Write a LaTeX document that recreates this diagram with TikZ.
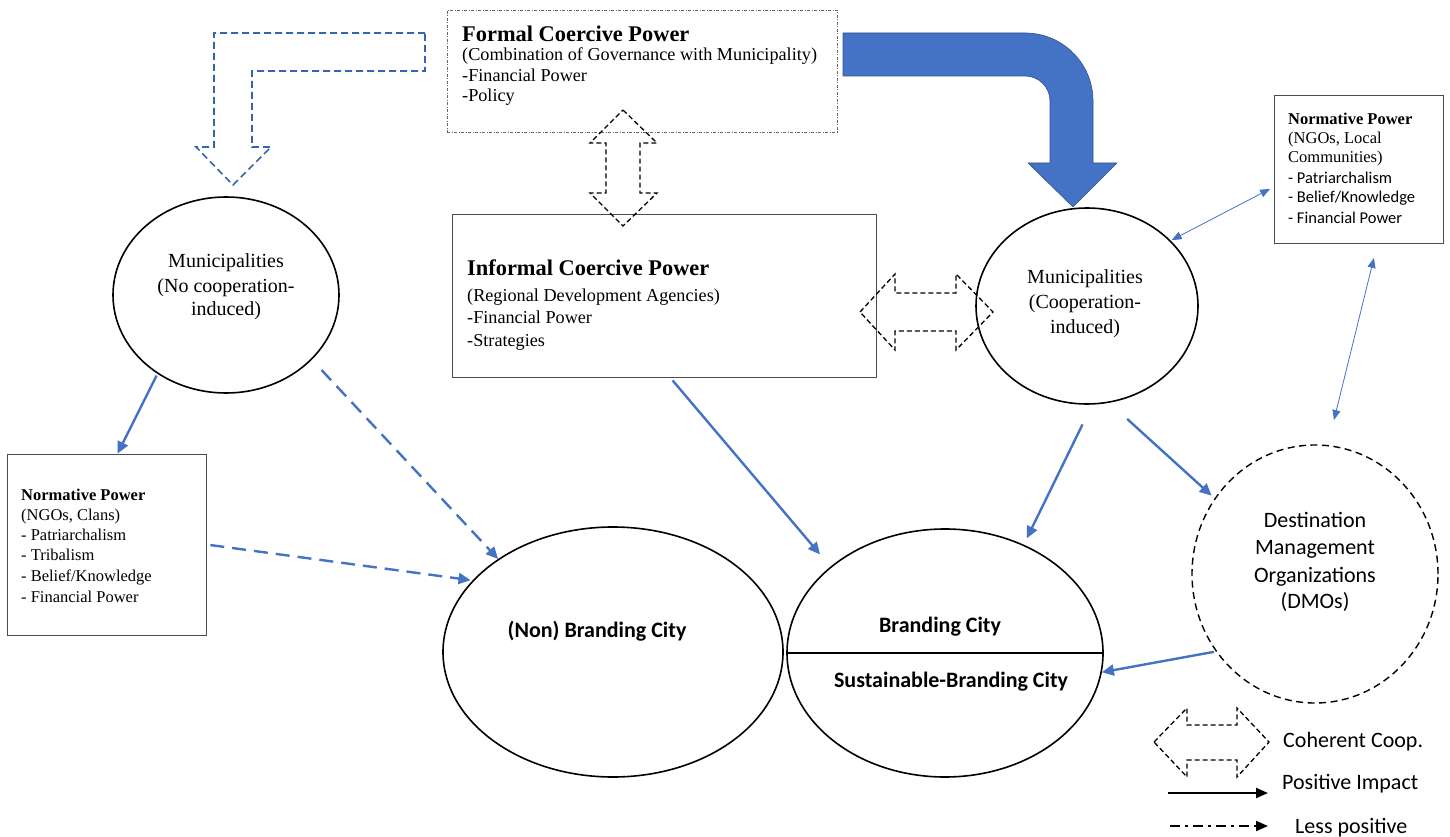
\documentclass[tikz,border=0pt]{standalone}
\usepackage{fontspec}
\setmainfont{Liberation Serif}
\newfontfamily\calib{Carlito}
\usetikzlibrary{shapes.geometric,arrows.meta,calc}
\definecolor{bl}{HTML}{4472C4}
\definecolor{bld}{HTML}{2F528F}
\definecolor{bdash}{HTML}{3565AE}
\begin{document}
\begin{tikzpicture}[x=1pt,y=-1pt,
  tl/.style={inner sep=0pt, anchor=base west},
  tc/.style={inner sep=0pt, anchor=base},
  tim/.style={font=\fontsize{18.2}{20}\selectfont},
  timb/.style={font=\fontsize{22.4}{24}\selectfont\bfseries},
  circ/.style={font=\fontsize{20}{22}\selectfont},
  small/.style={font=\fontsize{16.5}{18}\selectfont},
  smallb/.style={font=\fontsize{16.5}{18}\selectfont\bfseries},
  smallc/.style={font=\calib\fontsize{16.5}{18}\selectfont},
  calb/.style={font=\calib\fontsize{22}{24}\selectfont\bfseries},
  calr/.style={font=\calib\fontsize{22}{24}\selectfont},
  boxa/.style={draw=black!70, line width=0.7pt, rectangle, inner sep=0pt},
  ell/.style={draw=black, line width=1.6pt, ellipse, inner sep=0pt},
  posa/.style={draw=bl, line width=2.4pt, -{Triangle[length=12pt,width=11pt]}},
  lessa/.style={posa, dash pattern=on 14pt off 8pt},
  thina/.style={draw=bl, line width=0.8pt, {Triangle[length=10pt,width=8pt]}-{Triangle[length=10pt,width=8pt]}},
  coop/.style={draw=black, line width=1.3pt, dash pattern=on 5pt off 3pt, line join=miter},
]
\useasboundingbox (0,0) rectangle (1450,837);

% ---------- boxes ----------
\node[draw=black!60, line width=0.7pt, dash pattern=on 3pt off 1.5pt on 1pt off 1.5pt,
      rectangle, inner sep=0pt, minimum width=390pt, minimum height=122pt] (formal) at (642,71) {};
\node[boxa, minimum width=424pt, minimum height=163pt] (informal) at (664,295.5) {};
\node[boxa, minimum width=199pt, minimum height=181pt] (nl) at (106.5,544.5) {};
\node[boxa, minimum width=169pt, minimum height=148pt] (nr) at (1358.5,169) {};

% ---------- ellipses ----------
\node[ell, minimum width=226pt, minimum height=196pt] (lm) at (226,295) {};
\node[ell, minimum width=222pt, minimum height=196pt] (rc) at (1087,306) {};
\node[ell, minimum width=340pt, minimum height=250pt] (nb) at (613,652) {};
\node[ell, minimum width=316pt, minimum height=248pt] (bc) at (945,653) {};
\node[ell, line width=1.4pt, dash pattern=on 7pt off 4.5pt, minimum width=246pt, minimum height=258pt] (dm) at (1315,574) {};
\draw[line width=1.6pt] (bc.west) -- (bc.east);

% ---------- texts ----------
\node[tl,timb] (ft) at (462,42) {Formal Coercive Power};
\node[tl,tim] (f1) at (462,61) {(Combination of Governance with Municipality)};
\node[tl,tim] (f2) at (462,82) {-Financial Power};
\node[tl,tim] (f3) at (462,102) {-Policy};

\node[tl,timb] (it) at (467,275) {Informal Coercive Power};
\node[tl,tim] (i1) at (467,301) {(Regional Development Agencies)};
\node[tl,tim] (i2) at (467,323) {-Financial Power};
\node[tl,tim] (i3) at (467,346) {-Strategies};

\node[tc,circ] (lm1) at (226,267) {Municipalities};
\node[tc,circ] (lm2) at (226,292) {(No cooperation-};
\node[tc,circ] (lm3) at (226,315) {induced)};

\node[tc,circ] (rc1) at (1085,283) {Municipalities};
\node[tc,circ] (rc2) at (1085,308) {(Cooperation-};
\node[tc,circ] (rc3) at (1085,333) {induced)};

\node[tl,smallb] (nr0) at (1288,125) {Normative Power};
\node[tl,small] (nr1) at (1288,144) {(NGOs, Local};
\node[tl,small] (nr2) at (1288,163) {Communities)};
\node[tl,smallc] (nr3) at (1288,184) {- Patriarchalism};
\node[tl,smallc] (nr4) at (1288,203) {- Belief/Knowledge};
\node[tl,smallc] (nr5) at (1288,223) {- Financial Power};

\node[tl,smallb] (nl0) at (21,500) {Normative Power};
\node[tl,small] (nl1) at (21,520) {(NGOs, Clans)};
\node[tl,small] (nl2) at (21,540) {- Patriarchalism};
\node[tl,small] (nl3) at (21,560) {- Tribalism};
\node[tl,small] (nl4) at (21,581) {- Belief/Knowledge};
\node[tl,small] (nl5) at (21,602) {- Financial Power};

\node[tc,calb] (nbt) at (597,637) {(Non) Branding City};
\node[tc,calb] (bct) at (940,632) {Branding City};
\node[tc,calb] (bcs) at (951,687) {Sustainable-Branding City};

\node[tc,calr] (dm1) at (1315,527) {Destination};
\node[tc,calr] (dm2) at (1315,554) {Management};
\node[tc,calr] (dm3) at (1315,582) {Organizations};
\node[tc,calr] (dm4) at (1315,608) {(DMOs)};

\node[tl,calr] (lg1) at (1283,747) {Coherent Coop.};
\node[tl,calr] (lg2) at (1282,789) {Positive Impact};
\node[tl,calr] (lg3) at (1295,833) {Less positive};

% ---------- big blue bent arrow ----------
\draw[fill=bl, draw=bld, line width=0.6pt, line join=round]
  (843,33) -- (1025,33) .. controls (1062.6,33) and (1093,63.4) .. (1093,101)
  -- (1093,163) -- (1117,163) -- (1073,207) -- (1028,163) -- (1050,163) -- (1050,101)
  .. controls (1050,87.2) and (1038.8,76) .. (1025,76) -- (843,76) -- cycle;

% ---------- blue dashed hollow bent arrow ----------
\draw[draw=bdash, line width=1.6pt, dash pattern=on 7pt off 4pt, line join=miter]
  (425,33) -- (214,33) -- (214,147) -- (196,147) -- (233,185) -- (271,147)
  -- (252,147) -- (252,71) -- (425,71) -- cycle;

% ---------- coherent cooperation arrows ----------
\draw[coop] (623,110) -- (657,143) -- (640,143) -- (640,193) -- (657,193) -- (623,226)
  -- (590,193) -- (606,193) -- (606,143) -- (590,143) -- cycle;
\draw[coop] (860,312) -- (895,274) -- (895,293) -- (956,293) -- (956,274) -- (993,312)
  -- (956,350) -- (956,331) -- (895,331) -- (895,350) -- cycle;
\draw[coop] (1154,742) -- (1187,708) -- (1187,725) -- (1237,725) -- (1237,708) -- (1269,742)
  -- (1237,777) -- (1237,760) -- (1187,760) -- (1187,777) -- cycle;

% ---------- connectors ----------
\draw[posa, shorten <=2pt] (lm.229) -- ([xshift=11pt]nl.north);
\draw[lessa, shorten <=14pt] (lm.323) -- (nb.141);
\draw[lessa, shorten <=4pt, shorten >=2pt] (nl.east) -- (nb.153);
\draw[posa, shorten <=4pt, shorten >=16pt] ([xshift=6pt]informal.south) -- (bc.143);
\draw[posa, shorten <=22pt, shorten >=7pt] (rc.273) -- (bc.54);
\draw[posa, shorten <=24pt, shorten >=4pt] (rc.283) -- (dm.143);
\draw[posa, shorten <=2pt] (dm.218) -- (bc.353);
\draw[thina, shorten <=1pt, shorten >=4pt] (rc.38) -- ([yshift=-18pt]nr.west);
\draw[thina, shorten <=15pt, shorten >=25pt] ([xshift=19pt]nr.south) -- ([xshift=13pt]dm.north);

% ---------- legend lines ----------
\coordinate (la) at (1168,793);
\coordinate (lb) at (1268,793);
\coordinate (lc) at (1170,826);
\coordinate (ld) at (1268,826);
\draw[line width=2pt, -{Triangle[length=12pt,width=10pt]}] (la) -- (lb);
\draw[line width=2pt, dash pattern=on 10pt off 5pt on 3pt off 5pt, -{Triangle[length=12pt,width=10pt]}] (lc) -- (ld);
\end{tikzpicture}
\end{document}
